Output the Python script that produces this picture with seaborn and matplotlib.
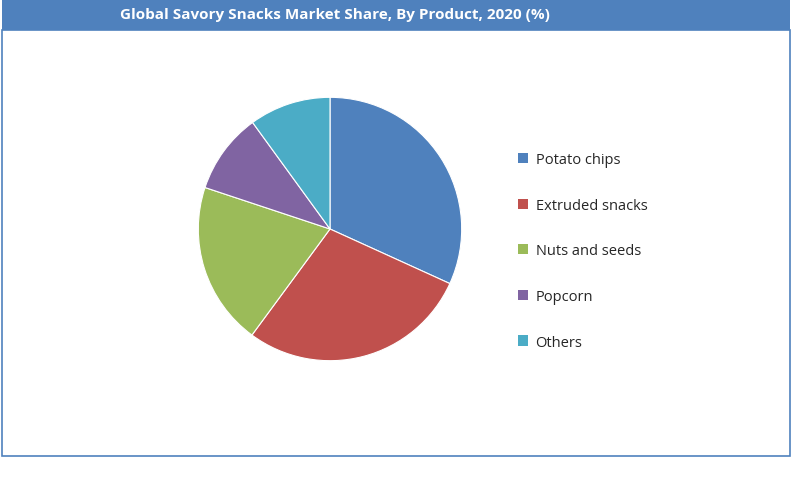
import matplotlib
matplotlib.use("Agg")
import matplotlib.pyplot as plt
import seaborn as sns
from matplotlib.patches import Rectangle, Patch

sns.set_style("white")
plt.rcParams['font.family'] = ['Open Sans', 'DejaVu Sans']

categories = ["Potato chips", "Extruded snacks", "Nuts and seeds", "Popcorn", "Others"]
shares = [31.8, 28.3, 20.0, 9.9, 10.0]
colors = ["#4F81BD", "#C0504D", "#9BBB59", "#8064A2", "#4BACC6"]
title = "Global Savory Snacks Market Share, By Product, 2020 (%)"

W, H = 800, 502
fig = plt.figure(figsize=(8, 5.02), dpi=100)
fig.patch.set_facecolor("white")

# banner and border
fig.patches.append(Rectangle((2/W, 1-31/H), 788/W, 30/H, transform=fig.transFigure,
                             facecolor="#4F81BD", edgecolor="none"))
fig.patches.append(Rectangle((2/W, 1-457/H), 788/W, 426/H, transform=fig.transFigure,
                             facecolor="none", edgecolor="#4F81BD", linewidth=1.2))
fig.text(335/W, 1-15/H, title, color="white", fontsize=11, fontweight="bold",
         ha="center", va="center")

ax = fig.add_axes([197/W, 1-363/H, 266/W, 266/H])
ax.pie(shares, colors=colors, startangle=90, counterclock=False, radius=1,
       wedgeprops=dict(linewidth=0.8, edgecolor="white"))
ax.set_xlim(-1.01, 1.01); ax.set_ylim(-1.01, 1.01)
ax.set_aspect("equal")

handles = [Patch(facecolor=c, edgecolor="none") for c in colors]
fig.legend(handles, categories, loc="upper left", bbox_to_anchor=(505/W, 1-140/H),
           frameon=False, fontsize=10.5, labelspacing=2.1, handlelength=0.7,
           handleheight=0.7, handletextpad=0.5)

fig.savefig("out.png", dpi=100)
